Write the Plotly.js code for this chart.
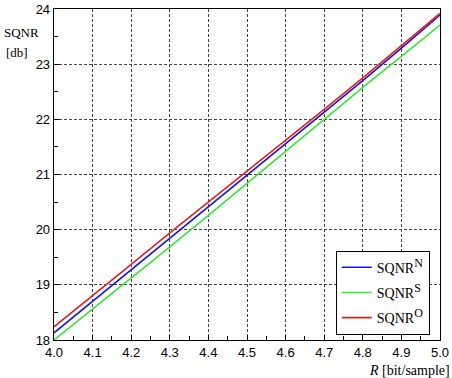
<!DOCTYPE html>
<html>
<head>
<meta charset="utf-8">
<script src="https://cdn.plot.ly/plotly-3.0.1.min.js"></script>
<style>html,body{margin:0;padding:0;background:#fff;}#chart{width:452px;height:378px;}</style>
</head>
<body>
<div id="chart"></div>
<script>
const rate = [4.0, 4.1, 4.2, 4.3, 4.4, 4.5, 4.6, 4.7, 4.8, 4.9, 5.0];
const sqnrN = [18.13, 18.70, 19.27, 19.84, 20.41, 20.98, 21.55, 22.12, 22.70, 23.29, 23.89];
const sqnrS = [18.00, 18.56, 19.12, 19.69, 20.26, 20.84, 21.41, 21.99, 22.58, 23.14, 23.71];
const sqnrO = [18.24, 18.80, 19.37, 19.94, 20.50, 21.05, 21.62, 22.18, 22.75, 23.33, 23.92];
const seriesNames = ['SQNR<sup><span style="font-size:12px">N</span></sup>',
                     'SQNR<sup><span style="font-size:12px">S</span></sup>',
                     'SQNR<sup><span style="font-size:12px">O</span></sup>'];
const xTickVals = [4.0, 4.1, 4.2, 4.3, 4.4, 4.5, 4.6, 4.7, 4.8, 4.9, 5.0];
const xTickText = ['4.0', '4.1', '4.2', '4.3', '4.4', '4.5', '4.6', '4.7', '4.8', '4.9', '5.0'];
const yTickVals = [18, 19, 20, 21, 22, 23, 24];

const SANS = 'Liberation Sans';
const SERIF = 'Liberation Serif';

const colors = ['#1414e6', '#33e633', '#e61e1e'];
const ys = [sqnrN, sqnrS, sqnrO];
const traces = ys.map((y, i) => ({
  x: rate, y: y, type: 'scatter', mode: 'lines', name: seriesNames[i],
  legendgroup: 'g' + i,
  line: {color: colors[i], width: 1.6}
}));

const axisCommon = {
  showline: true, linecolor: '#000', linewidth: 1.3, mirror: true,
  ticks: 'inside', ticklen: 5, tickcolor: '#000', tickwidth: 1,
  showgrid: true, gridcolor: '#444', gridwidth: 1, griddash: '3px,2px',
  zeroline: false,
  tickfont: {family: SANS, size: 13, color: '#000'}
};

const layout = {
  width: 452, height: 378,
  margin: {l: 54, r: 12, t: 9, b: 38},
  paper_bgcolor: '#fff', plot_bgcolor: '#fff',
  showlegend: true,
  xaxis: Object.assign({}, axisCommon, {
    range: [4.0, 5.0], tickvals: xTickVals, ticktext: xTickText,
    minor: {dtick: 0.05, ticks: 'inside', ticklen: 4, tickcolor: '#000', showgrid: false}
  }),
  yaxis: Object.assign({}, axisCommon, {
    range: [18, 24], tickvals: yTickVals,
    minor: {dtick: 0.5, ticks: 'inside', ticklen: 4, tickcolor: '#000', showgrid: false}
  }),
  legend: {
    x: 0.73, y: 0.27, xanchor: 'left', yanchor: 'top',
    bgcolor: '#fff', bordercolor: '#000', borderwidth: 1,
    font: {family: SERIF, size: 14, color: '#000'},
    itemwidth: 30, tracegroupgap: 4, traceorder: 'grouped'
  },
  annotations: [
    {text: 'SQNR', xref: 'paper', yref: 'paper', x: -0.135, y: 0.928, xanchor: 'left', yanchor: 'middle',
     showarrow: false, font: {family: SERIF, size: 13, color: '#000'}},
    {text: '[db]', xref: 'paper', yref: 'paper', x: -0.096, y: 0.868, xanchor: 'center', yanchor: 'middle',
     showarrow: false, font: {family: SERIF, size: 13, color: '#000'}},
    {text: '<i>R</i> [bit/sample]', xref: 'paper', yref: 'paper', x: 1.03, y: -0.062, xanchor: 'right', yanchor: 'top',
     showarrow: false, font: {family: SERIF, size: 14, color: '#000'}}
  ]
};

Plotly.newPlot('chart', traces, layout, {displayModeBar: false, staticPlot: true});
</script>
</body>
</html>
